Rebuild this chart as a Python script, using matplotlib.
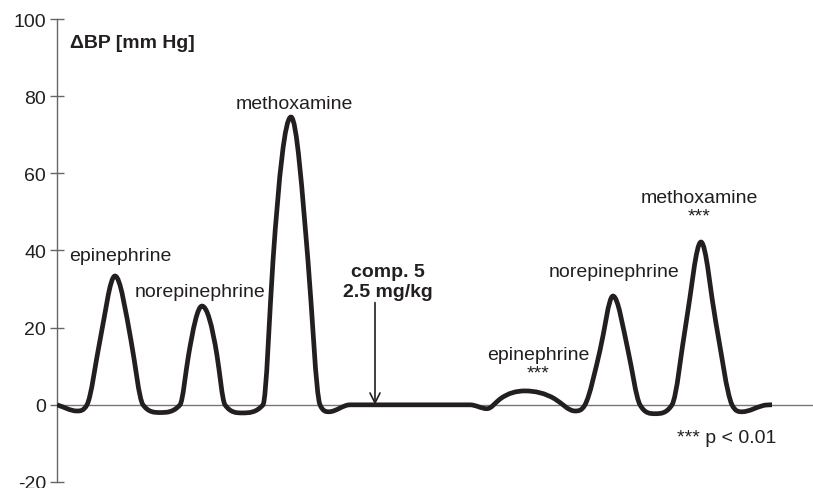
import numpy as np
import matplotlib
matplotlib.use("Agg")
import matplotlib.pyplot as plt
from matplotlib.path import Path
from matplotlib.patches import PathPatch

plt.rcParams['font.family'] = ['Liberation Sans', 'DejaVu Sans']
plt.rcParams['axes.unicode_minus'] = False

# Time (arbitrary units) and blood-pressure change (mm Hg)
time = [0, 20, 30,
        43, 58, 74, 86,
        103,
        123, 131.5, 145, 160, 168,
        185,
        206, 216, 234, 251, 263,
        272, 293, 330, 380, 413, 430, 443, 468, 498, 518,
        528, 543, 556, 571, 583,
        598,
        615, 629, 644, 659, 675,
        685, 706, 715]
dbp = [0, -1.6, 0,
       16.7, 33.4, 16.7, 0,
       -2.0,
       0, 12.8, 25.6, 12.8, 0,
       -2.1,
       0, 37.3, 74.6, 37.3, 0,
       -1.8, 0, 0, 0, 0, -1, 1.5, 3.6, 1.5, -1.6,
       0, 14.1, 28.2, 14.1, 0,
       -2.3,
       0, 21.1, 42.2, 21.1, 0,
       -1.8, -0.2, 0]

labels = ["epinephrine", "norepinephrine", "methoxamine",
          "epinephrine\n***", "norepinephrine", "methoxamine\n***"]
label_x = [63, 143, 237, 481, 557, 642]
label_y = [38.6, 29.3, 78.0, 10.6, 34.5, 51.4]

yticks = [-20, 0, 20, 40, 60, 80, 100]
arrow_x = 318

fig = plt.figure(figsize=(8.13, 4.89), dpi=100)
ax = fig.add_axes([0.0701, 0.0123, 0.9299, 0.9468])
ax.set_xlim(0, 756)
ax.set_ylim(-20, 100)

# Smooth line: cubic Hermite through the points, drawn as a Bezier path
x = np.array(time, float)
y = np.array(dbp, float)
h = np.diff(x)
d = np.diff(y) / h
n = len(x)
m = np.zeros(n)
for i in range(1, n - 1):
    if d[i - 1] * d[i] <= 0:
        m[i] = 0.0
    else:
        a, b = abs(d[i - 1]), abs(d[i])
        m[i] = np.sign(d[i]) * min(max(a, b), 3 * min(a, b))
m[0] = d[0]
m[-1] = 0.0
verts = [(x[0], y[0])]
codes = [Path.MOVETO]
for i in range(n - 1):
    c1 = (x[i] + h[i] / 3, y[i] + m[i] * h[i] / 3)
    c2 = (x[i + 1] - h[i] / 3, y[i + 1] - m[i + 1] * h[i] / 3)
    verts += [c1, c2, (x[i + 1], y[i + 1])]
    codes += [Path.CURVE4] * 3
ax.add_patch(PathPatch(Path(verts, codes), fill=False, lw=3.4,
                       edgecolor='#231f20', capstyle='butt', joinstyle='round',
                       zorder=3))

ax.axhline(0, color='#777777', lw=1.0, zorder=1)

for s in ['top', 'right', 'bottom']:
    ax.spines[s].set_visible(False)
ax.spines['left'].set_color('#666666')
ax.spines['left'].set_linewidth(1.0)
ax.set_xticks([])
ax.set_yticks(yticks)
ax.tick_params(axis='y', direction='inout', length=10, width=1.0,
               color='#666666', labelsize=14, pad=3, labelcolor='#231f20')

tc = '#231f20'
ax.text(13, 94, "\u0394BP [mm Hg]", fontsize=14, fontweight='bold',
        ha='left', va='center', color=tc)

for lab, lx, ly in zip(labels, label_x, label_y):
    ax.text(lx, ly, lab, fontsize=14, ha='center', va='center', color=tc,
            linespacing=1.15)

ax.text(331, 32, "comp. 5\n2.5 mg/kg", fontsize=14, fontweight='bold',
        ha='center', va='center', color=tc, linespacing=1.2)
ax.annotate("", xy=(arrow_x, 0), xytext=(arrow_x, 26.5),
            arrowprops=dict(arrowstyle='->', color=tc, lw=1.2,
                            mutation_scale=18, shrinkA=0, shrinkB=0))

ax.text(670, -8.5, "*** p < 0.01", fontsize=14, ha='center', va='center',
        color=tc)

fig.savefig("out.png", dpi=100)
